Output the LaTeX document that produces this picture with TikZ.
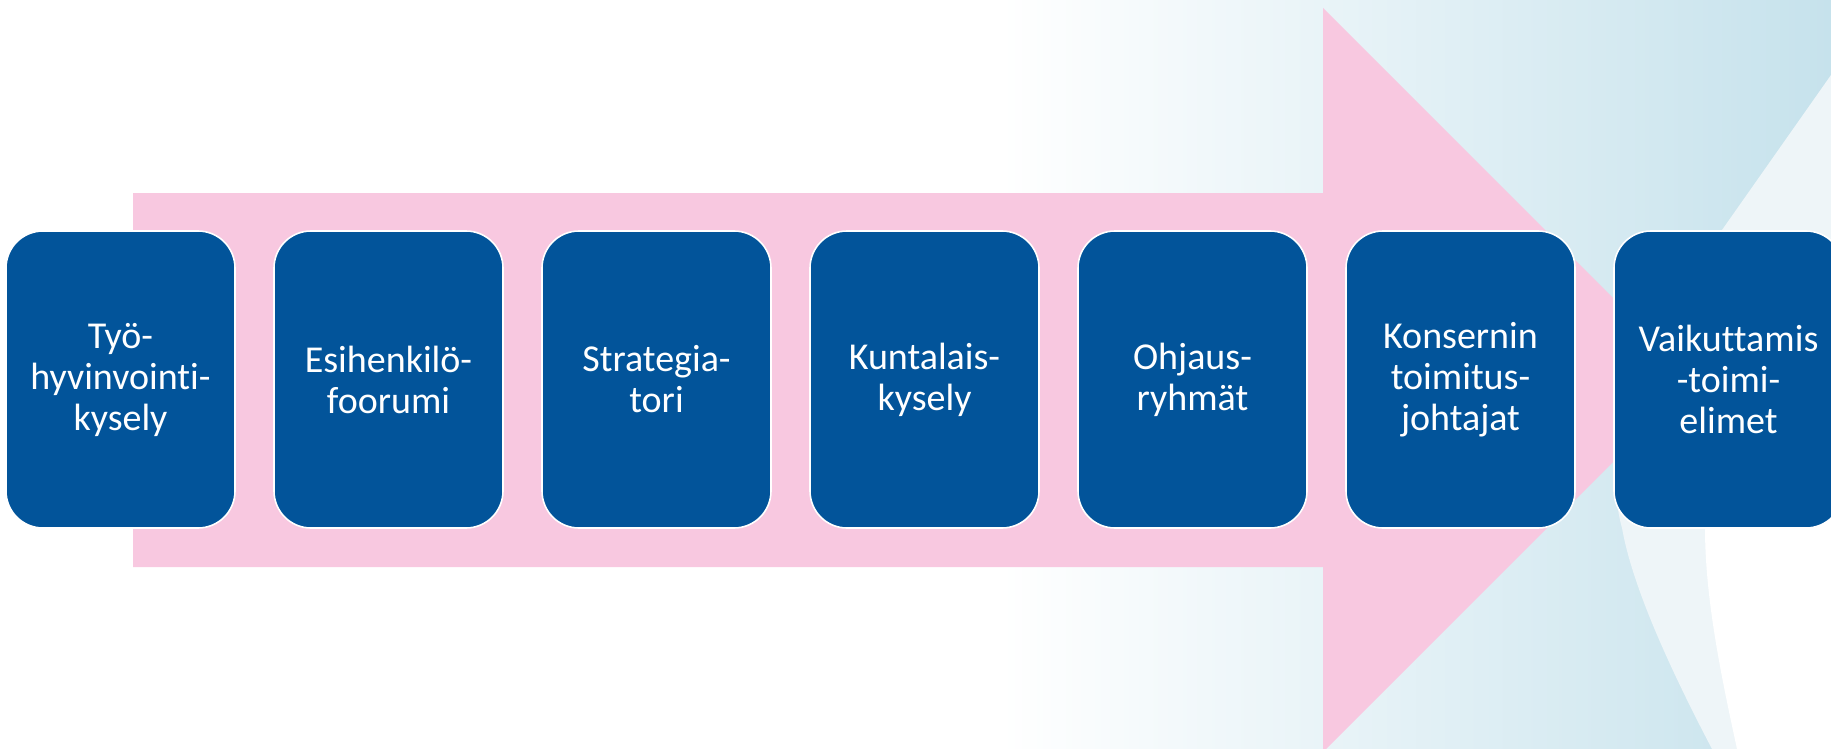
\documentclass[tikz,border=0pt]{standalone}
\usepackage{fontspec}
\setmainfont{Carlito}[Ligatures={TeX,NoCommon}]
\usetikzlibrary{positioning}
\definecolor{stageblue}{RGB}{2,84,154}
\definecolor{arrowpink}{RGB}{248,200,224}
\definecolor{bgblue}{RGB}{198,226,236}
\definecolor{bgpale}{RGB}{238,245,248}
\tikzset{
    stage/.style = {
      draw=white, line width=0.8pt, fill=stageblue, rounded corners=18.5pt,
      minimum width=114.5pt, minimum height=148.5pt, inner sep=2pt,
      text=white, align=center, font=\fontsize{19}{20.5}\selectfont,
    },
    stage gap/.style = {right=18.7pt of #1},
    flow arrow/.style = {fill=arrowpink},
}

\begin{document}
\begin{tikzpicture}[x=0.5pt, y=-0.5pt]
    \useasboundingbox (0,0) rectangle (1831,749);
    \clip (0,0) rectangle (1831,749);

    %% Background: white fading into light blue, with a pale wave on the right
    \fill [white] (0,0) rectangle (1831,749);
    \shade [left color=white, right color=bgblue] (1000,0) rectangle (1831,749);
    \fill [bgpale] (1831,75) -- (1722,230)
      .. controls (1640,347) and (1600,450) .. (1622,528)
      .. controls (1632,585) and (1668,665) .. (1712,749) -- (1831,749) -- cycle;
    \fill [white] (1700,480) -- (1831,480) -- (1831,749) -- (1737,749)
      .. controls (1722,680) and (1705,600) .. (1705,528) -- cycle;

    %% The big arrow that runs behind the stages
    \fill [flow arrow] (133,193) -- (1323,193) -- (1323,8) -- (1695,380)
      -- (1323,752) -- (1323,567) -- (133,567) -- cycle;

    %% The stages, left to right
    \node [stage] (tyohyvinvointi) at (120.5,379.5) {Työ-\\hyvinvointi-\\kysely};
    \node [stage, stage gap=tyohyvinvointi] (esihenkilo) {Esihenkilö-\\foorumi};
    \node [stage, stage gap=esihenkilo] (strategiatori) {Strategia-\\tori};
    \node [stage, stage gap=strategiatori] (kuntalais) {Kuntalais-\\kysely};
    \node [stage, stage gap=kuntalais] (ohjaus) {Ohjaus-\\ryhmät};
    \node [stage, stage gap=ohjaus] (konserni) {Konsernin\\toimitus-\\johtajat};
    \node [stage, stage gap=konserni] (vaikuttamis) {Vaikuttamis\\-toimi-\\elimet};
\end{tikzpicture}
\end{document}
